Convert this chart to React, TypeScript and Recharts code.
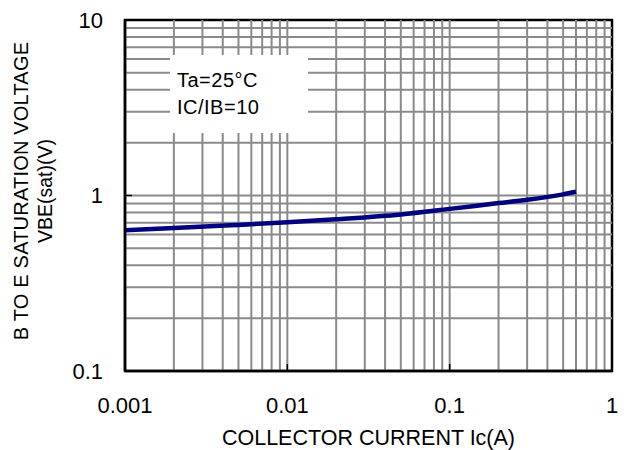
import React from "react";
import {
  LineChart,
  Line,
  XAxis,
  YAxis,
  ReferenceLine,
  ReferenceArea,
} from "recharts";

const currentA = [0.001, 0.002, 0.005, 0.01, 0.02, 0.05, 0.1, 0.2, 0.3, 0.5, 0.6];
const vbeSat = [0.634, 0.652, 0.68, 0.703, 0.732, 0.78, 0.839, 0.905, 0.945, 1.015, 1.05];

const xTicks = [0.001, 0.01, 0.1, 1];
const yTicks = [0.1, 1, 10];
const xGrid = [
  0.002, 0.003, 0.004, 0.005, 0.006, 0.007, 0.008, 0.009, 0.01,
  0.02, 0.03, 0.04, 0.05, 0.06, 0.07, 0.08, 0.09, 0.1,
  0.2, 0.3, 0.4, 0.5, 0.6, 0.7, 0.8, 0.9,
];
const yGrid = [0.2, 0.3, 0.4, 0.5, 0.6, 0.7, 0.8, 0.9, 1, 2, 3, 4, 5, 6, 7, 8, 9];

const xTitle = "COLLECTOR CURRENT Ic(A)";
const yTitle1 = "B TO E SATURATION VOLTAGE";
const yTitle2 = "VBE(sat)(V)";
const note1 = "Ta=25°C";
const note2 = "IC/IB=10";

const data = currentA.map((x, i) => ({ x, y: vbeSat[i] }));

const FONT = "'Liberation Sans', Arial, sans-serif";
const GRID = "#8a8a8a";

const XTitle = (props: any) => {
  const vb = props.viewBox || {};
  return (
    <text
      x={vb.x + vb.width / 2}
      y={vb.y + 74}
      textAnchor="middle"
      fontFamily={FONT}
      fontSize={21.5}
      fill="#000"
    >
      {xTitle}
    </text>
  );
};

const YTitle = (props: any) => {
  const vb = props.viewBox || {};
  const cy = vb.y + 171;
  return (
    <g>
      <text
        x={28}
        y={cy}
        transform={`rotate(-90, 28, ${cy})`}
        textAnchor="middle"
        fontFamily={FONT}
        fontSize={20}
        letterSpacing={0.2}
        fill="#000"
      >
        {yTitle1}
      </text>
      <text
        x={52}
        y={cy}
        transform={`rotate(-90, 52, ${cy})`}
        textAnchor="middle"
        fontFamily={FONT}
        fontSize={19.5}
        fill="#000"
      >
        {yTitle2}
      </text>
    </g>
  );
};

export default function App() {
  return (
    <div style={{ position: "absolute", left: 0, top: 0, width: 626, height: 450, background: "#fff" }}>
      <LineChart
        width={626}
        height={450}
        data={data}
        margin={{ top: 20, right: 14, bottom: 0, left: 0 }}
      >
        {xGrid.map((v) => (
          <ReferenceLine key={"vx" + v} x={v} stroke={GRID} strokeWidth={2} ifOverflow="hidden" />
        ))}
        {yGrid.map((v) => (
          <ReferenceLine key={"hy" + v} y={v} stroke={GRID} strokeWidth={2} ifOverflow="hidden" />
        ))}
        <ReferenceArea
          x1={0.001}
          x2={1}
          y1={0.1}
          y2={10}
          fill="none"
          fillOpacity={0}
          stroke="#000"
          strokeWidth={2.5}
        />
        <XAxis
          dataKey="x"
          type="number"
          scale="log"
          domain={[0.001, 1]}
          ticks={xTicks}
          allowDataOverflow
          height={79}
          tickSize={-7}
          tickMargin={33}
          tickFormatter={(v: number) => String(v)}
          tick={{ fontFamily: FONT, fontSize: 22, fill: "#000" }}
          tickLine={{ stroke: "#000", strokeWidth: 1.5 }}
          axisLine={{ stroke: "#000", strokeWidth: 2.5 }}
          label={<XTitle />}
        />
        <YAxis
          type="number"
          scale="log"
          domain={[0.1, 10]}
          ticks={yTicks}
          allowDataOverflow
          width={125}
          tickSize={-7}
          tickMargin={29}
          tickFormatter={(v: number) => String(v)}
          tick={{ fontFamily: FONT, fontSize: 22, fill: "#000" }}
          tickLine={{ stroke: "#000", strokeWidth: 1.5 }}
          axisLine={{ stroke: "#000", strokeWidth: 2.5 }}
          label={<YTitle />}
        />
        <Line
          dataKey="y"
          type="monotone"
          stroke="#000080"
          strokeWidth={4.5}
          dot={false}
          isAnimationActive={false}
        />
      </LineChart>
      <div
        style={{
          position: "absolute",
          left: 170,
          top: 55,
          width: 138,
          height: 78,
          background: "#fff",
          fontFamily: FONT,
          fontSize: 20,
          letterSpacing: 0.5,
          color: "#000",
          boxSizing: "border-box",
          paddingLeft: 7,
          paddingTop: 12,
          lineHeight: "27px",
        }}
      >
        <div>{note1}</div>
        <div>{note2}</div>
      </div>
    </div>
  );
}
